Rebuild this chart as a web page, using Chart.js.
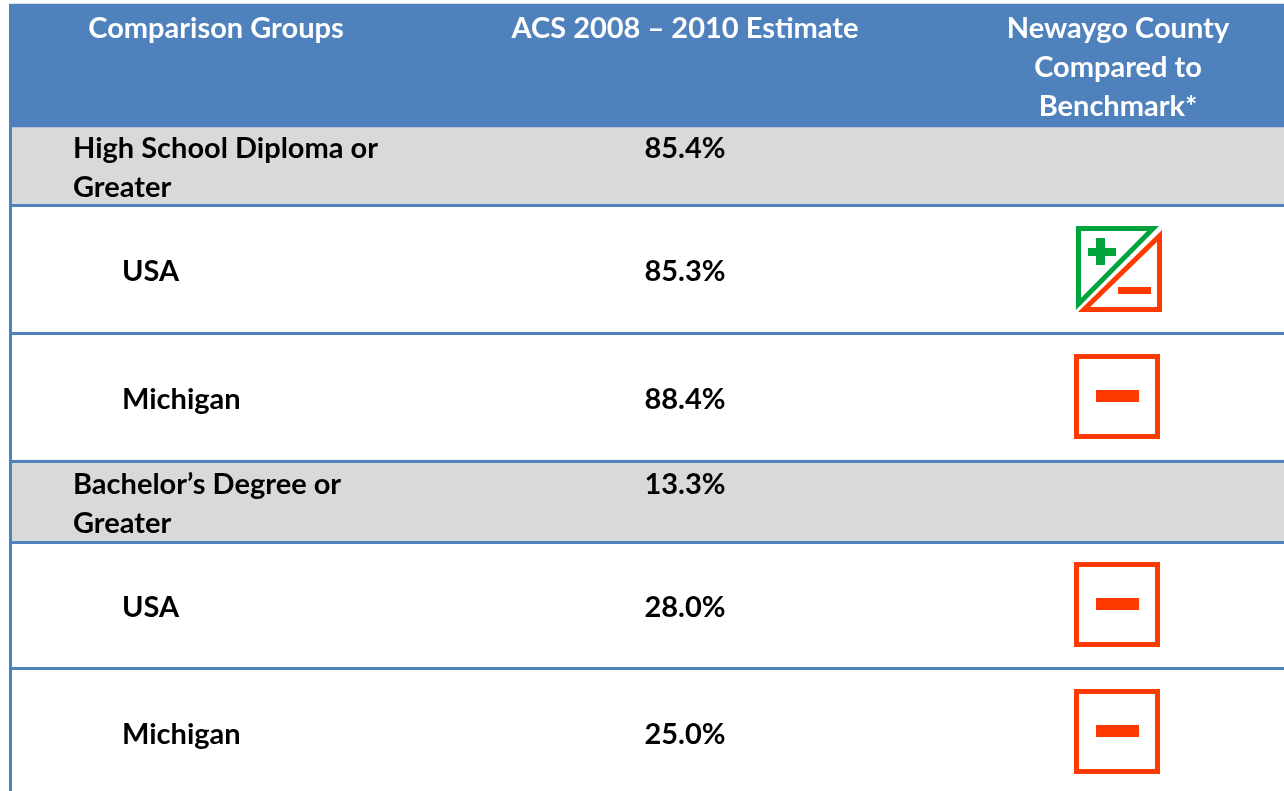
<!DOCTYPE html>
<html>
<head>
<meta charset="utf-8">
<title>Newaygo County education comparison</title>
<script src="https://cdn.jsdelivr.net/npm/chart.js@4"></script>
<style>
  body { margin: 0; background: #ffffff; }
  canvas { display: block; }
</style>
</head>
<body>
<canvas id="tabela" width="1284" height="791"></canvas>
<script>
// table content
const headers = [['Comparison Groups'], ['ACS 2008 – 2010 Estimate'], ['Newaygo County', 'Compared to', 'Benchmark*']];
const groupLabels = [['High School Diploma or', 'Greater'], ['USA'], ['Michigan'], ['Bachelor’s Degree or', 'Greater'], ['USA'], ['Michigan']];
const estimates = [85.4, 85.3, 88.4, 13.3, 28.0, 25.0];
const benchmarks = ['', 'mixed', 'minus', '', 'minus', 'minus'];
const isGroupRow = [true, false, false, true, false, false];

// layout, in the 1284x791 space of the hidden axes
const rowEdges = [127, 204, 332, 460, 541, 667, 791];
const textLines = [149, 272, 400, 485, 608, 735];
const iconCentres = [null, 269, 397, null, 605, 732];
const fonte = 'bold 29px Lato';

function novoIcone(tipo) {
  const c = document.createElement('canvas');
  c.width = 90; c.height = 90;
  const g = c.getContext('2d');
  const verde = '#00A33C', vermelho = '#FF3A00';
  g.filter = 'blur(0.6px)';
  g.lineJoin = 'miter';
  g.lineWidth = 5;
  if (tipo === 'minus') {
    g.strokeStyle = vermelho;
    g.strokeRect(4.5, 4.5, 81, 80);
    g.fillStyle = vermelho;
    g.fillRect(24, 38, 43, 12);
  } else {
    g.strokeStyle = verde;
    g.beginPath(); g.moveTo(4.5, 4.5); g.lineTo(79, 4.5); g.lineTo(4.5, 80); g.closePath(); g.stroke();
    g.fillStyle = verde;
    g.fillRect(14, 24, 28, 8);
    g.fillRect(22, 14, 9, 27);
    g.strokeStyle = vermelho;
    g.beginPath(); g.moveTo(85.5, 12); g.lineTo(85.5, 85.5); g.lineTo(10, 85.5); g.closePath(); g.stroke();
    g.fillStyle = vermelho;
    g.fillRect(44, 63, 33, 7);
  }
  return c;
}

const icones = { minus: novoIcone('minus'), mixed: novoIcone('mixed') };

// background bands
const datasets = [{
  type: 'bar', data: [[4, rowEdges[0]]], backgroundColor: '#4F81BD',
  barPercentage: 1, categoryPercentage: 1, grouped: false, order: 5, xAxisID: 'x', yAxisID: 'y'
}];
isGroupRow.forEach((grupo, i) => {
  if (grupo) {
    datasets.push({
      type: 'bar', data: [[rowEdges[i], rowEdges[i + 1]]], backgroundColor: '#D9D9D9',
      barPercentage: 1, categoryPercentage: 1, grouped: false, order: 5, xAxisID: 'x', yAxisID: 'y'
    });
  }
});

// rules under each row, and the table's left edge
rowEdges.slice(1, -1).forEach(y => {
  datasets.push({
    type: 'line', data: [{ x: 9, y: y + 1.5 }, { x: 1284, y: y + 1.5 }], borderColor: '#4F81BD',
    borderWidth: 3, pointRadius: 0, order: 3, xAxisID: 'x2', yAxisID: 'y'
  });
});
datasets.push({
  type: 'line', data: [{ x: 10.5, y: 4 }, { x: 10.5, y: 791 }], borderColor: '#4F81BD',
  borderWidth: 3, pointRadius: 0, order: 3, xAxisID: 'x2', yAxisID: 'y'
});
// faint line left in the grey row
datasets.push({
  type: 'line', data: [{ x: 963, y: 162.5 }, { x: 1272, y: 162.5 }], borderColor: '#DEDEDE',
  borderWidth: 1, pointRadius: 0, order: 4, xAxisID: 'x2', yAxisID: 'y'
});

// benchmark symbols
benchmarks.forEach((b, i) => {
  if (b) {
    datasets.push({
      type: 'scatter', data: [{ x: b === 'mixed' ? 1119 : 1117, y: iconCentres[i] }],
      pointStyle: icones[b], order: 1, xAxisID: 'x2', yAxisID: 'y'
    });
  }
});

const textos = {
  id: 'textos',
  afterDatasetsDraw(chart) {
    const { ctx, scales } = chart;
    const px = v => scales.x2.getPixelForValue(v);
    const py = v => scales.y.getPixelForValue(v);
    const escreve = (t, x, y, cor, alinha) => {
      ctx.fillStyle = cor;
      ctx.textAlign = alinha;
      ctx.fillText(t, px(x), py(y));
    };
    ctx.save();
    ctx.font = fonte;
    ctx.textBaseline = 'middle';
    const xHeader = [216, 685, 1118];
    headers.forEach((linhas, c) => {
      linhas.forEach((t, l) => escreve(t, xHeader[c], 28.5 + l * 39, '#FFFFFF', 'center'));
    });
    groupLabels.forEach((linhas, i) => {
      const xTexto = isGroupRow[i] ? 73 : 122;
      linhas.forEach((t, l) => escreve(t, xTexto, textLines[i] + l * 39, '#000000', 'left'));
      escreve(estimates[i].toFixed(1) + '%', 685, textLines[i], '#000000', 'center');
    });
    ctx.restore();
  }
};

new Chart(document.getElementById('tabela'), {
  data: { labels: ['tabela'], datasets: datasets },
  plugins: [textos],
  options: {
    responsive: false,
    animation: false,
    layout: { autoPadding: false, padding: { left: 9, right: 0, top: 0, bottom: 0 } },
    plugins: { legend: { display: false }, tooltip: { enabled: false } },
    scales: {
      x: { type: 'category', display: false },
      x2: { type: 'linear', min: 9, max: 1284, display: false },
      y: { type: 'linear', min: 0, max: 791, reverse: true, display: false }
    }
  }
});
</script>
</body>
</html>
